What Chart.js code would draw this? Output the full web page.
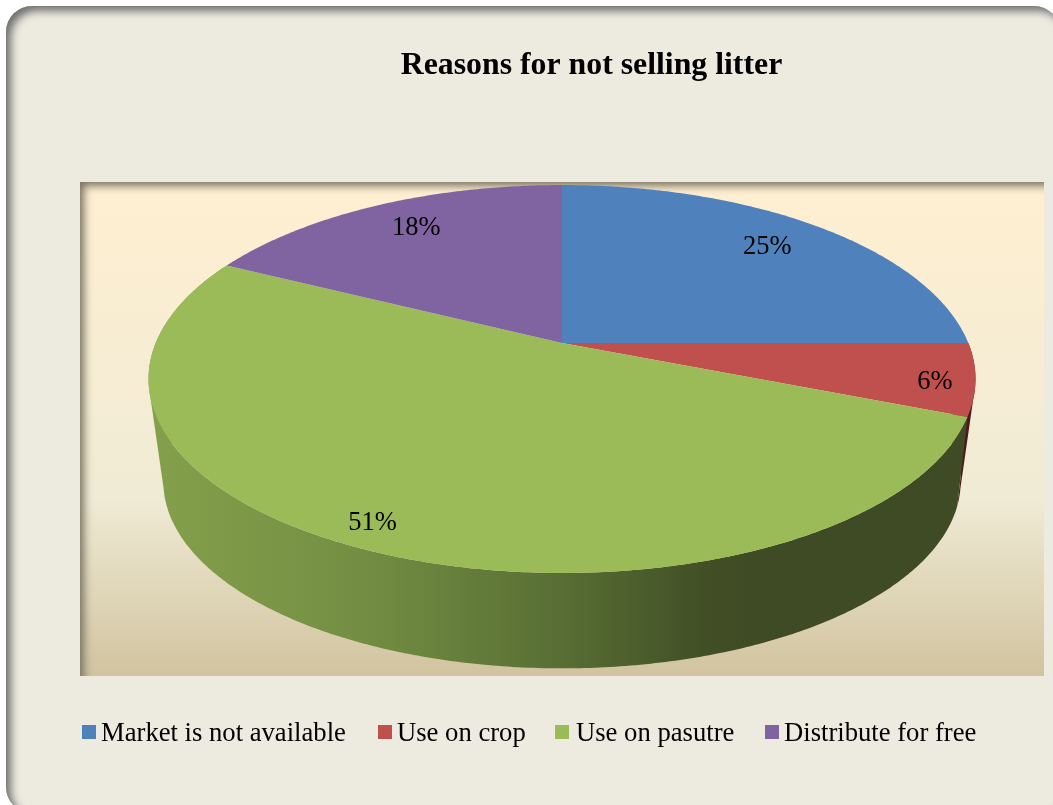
<!DOCTYPE html>
<html><head><meta charset="utf-8">
<style>html,body{margin:0;padding:0;background:#fff;overflow:hidden}canvas{display:block}</style>
<script src="https://cdn.jsdelivr.net/npm/chart.js@4/dist/chart.umd.min.js"></script>
</head><body><canvas id="c" width="1053" height="805"></canvas>
<script>
const titleText = "Reasons for not selling litter";
const categories = ["Market is not available", "Use on crop", "Use on pasutre", "Distribute for free"];
const shares = [25, 6, 51.4, 17.6];
const colors = ["#4F81BD", "#C0504D", "#9BBB59", "#8064A2"];

const SERIF = '"Liberation Serif", "Times New Roman", serif';
const TILT = -0.1856, XSTRETCH = 406.3 / 187.3;
const RIM = { tilt: -0.25, xs: 386 / 187.3, ys: 175 / 187.3, drop: 92 };
const LABEL_FRAC = [0.795, 0.906, 0.906, 0.803];
const LABEL_TURN = [-0.4, 1.9, 1.8, 1.4];
const LEGEND_X = [82, 378, 555, 765];
const LEGEND_TEXT_X = [101, 397, 576, 784];

function project(el, angle, f) {
  const u = Math.cos(angle) * f, v = Math.sin(angle) * f, d = 1 + TILT * v;
  return { x: el.x + XSTRETCH * el.outerRadius * u / d, y: el.y + el.outerRadius * v / d };
}
function rim(el, angle) {
  const u = Math.cos(angle), v = Math.sin(angle), d = 1 + RIM.tilt * v;
  return { x: el.x + RIM.xs * el.outerRadius * u / d, y: el.y + RIM.drop + RIM.ys * el.outerRadius * v / d };
}
function samples(a, b) {
  const n = Math.max(2, Math.ceil(Math.abs(b - a) / 0.01)), out = [];
  for (let i = 0; i <= n; i++) out.push(a + (b - a) * i / n);
  return out;
}
function paintWall(ctx, el, style) {
  const ts = samples(el.startAngle, el.endAngle);
  ctx.fillStyle = style;
  ctx.beginPath();
  for (let i = 0; i < ts.length - 1; i++) {
    const p = [project(el, ts[i], 1), project(el, ts[i + 1], 1), rim(el, ts[i + 1]), rim(el, ts[i])];
    let area = 0;
    p.forEach((q, j) => { const r = p[(j + 1) % 4]; area += q.x * r.y - r.x * q.y; });
    if (area < 0) p.reverse();
    p.forEach((q, j) => j ? ctx.lineTo(q.x, q.y) : ctx.moveTo(q.x, q.y));
    ctx.closePath();
  }
  ctx.fill("nonzero");
}
function innerShadow(ctx, clipFn, holeFn, color, blur, off) {
  ctx.save();
  clipFn(); ctx.clip();
  ctx.beginPath();
  ctx.rect(-300, -300, 1700, 1500);
  holeFn();
  ctx.shadowColor = color; ctx.shadowBlur = blur;
  ctx.shadowOffsetX = off; ctx.shadowOffsetY = off;
  ctx.fillStyle = color;
  ctx.fill("evenodd");
  ctx.restore();
}

const scene = {
  id: "scene",
  beforeDraw(chart) {
    const ctx = chart.ctx;
    ctx.save();
    ctx.fillStyle = "#fff"; ctx.fillRect(0, 0, 1053, 805);
    const panel = () => ctx.roundRect(6, 6, 1054, 807, 26);
    ctx.beginPath(); panel(); ctx.fillStyle = "#EDEBE0"; ctx.fill();
    innerShadow(ctx, () => { ctx.beginPath(); panel(); }, panel, "#6f6f6f", 9, 5);
    const g = ctx.createLinearGradient(0, 182, 0, 676);
    g.addColorStop(0, "#FFEFD1"); g.addColorStop(0.64, "#F0EBD5"); g.addColorStop(1, "#D1C39F");
    ctx.fillStyle = g; ctx.fillRect(80, 182, 964, 494);
    const plot = () => ctx.rect(80, 182, 964, 494);
    innerShadow(ctx, () => { ctx.beginPath(); plot(); }, () => ctx.rect(80, 182, 1100, 700), "#7a7361", 8, 4);
    ctx.restore();
  },
  beforeDatasetsDraw(chart) {
    const ctx = chart.ctx, arcs = chart.getDatasetMeta(0).data;
    ctx.save();
    paintWall(ctx, arcs[1], "#4A1C1B");
    const g = ctx.createLinearGradient(148, 0, 975, 0);
    g.addColorStop(0, "#84A04B"); g.addColorStop(0.25, "#748F43"); g.addColorStop(0.5, "#586E34");
    g.addColorStop(0.67, "#425026"); g.addColorStop(0.72, "#3F4B24"); g.addColorStop(1, "#3F4B24");
    paintWall(ctx, arcs[2], g);
    arcs.forEach((el, i) => {
      ctx.beginPath();
      const c = project(el, 0, 0); ctx.moveTo(c.x, c.y);
      samples(el.startAngle, el.endAngle).forEach(t => { const p = project(el, t, 1); ctx.lineTo(p.x, p.y); });
      ctx.closePath();
      ctx.fillStyle = colors[i]; ctx.fill();
    });
    ctx.restore();
  },
  beforeDatasetDraw() { return false; },
  afterDatasetsDraw(chart) {
    const ctx = chart.ctx, arcs = chart.getDatasetMeta(0).data;
    ctx.save();
    ctx.fillStyle = "#000"; ctx.textBaseline = "middle"; ctx.textAlign = "center";
    ctx.font = "26.5px " + SERIF;
    arcs.forEach((el, i) => {
      const mid = (el.startAngle + el.endAngle) / 2 + LABEL_TURN[i] * Math.PI / 180;
      const p = project(el, mid, LABEL_FRAC[i]);
      ctx.fillText(Math.round(shares[i]) + "%", p.x, p.y);
    });
    ctx.textAlign = "left";
    ctx.font = "26.65px " + SERIF;
    categories.forEach((name, i) => {
      ctx.fillStyle = colors[i]; ctx.fillRect(LEGEND_X[i], 725, 14, 14);
      ctx.fillStyle = "#000"; ctx.fillText(name, LEGEND_TEXT_X[i], 734);
    });
    ctx.fillStyle = "#000"; ctx.textAlign = "center";
    ctx.font = "bold 31.8px " + SERIF;
    ctx.fillText(titleText, 591.5, 66);
    ctx.restore();
  }
};

new Chart(document.getElementById("c"), {
  type: "pie",
  data: { labels: categories, datasets: [{ data: shares, backgroundColor: colors, borderWidth: 0 }] },
  options: {
    responsive: false, animation: false,
    layout: { padding: { top: 155.7, bottom: 274.7, left: 71, right: 0 } },
    plugins: { legend: { display: false }, tooltip: { enabled: false }, title: { display: false } }
  },
  plugins: [scene]
});
</script></body></html>
